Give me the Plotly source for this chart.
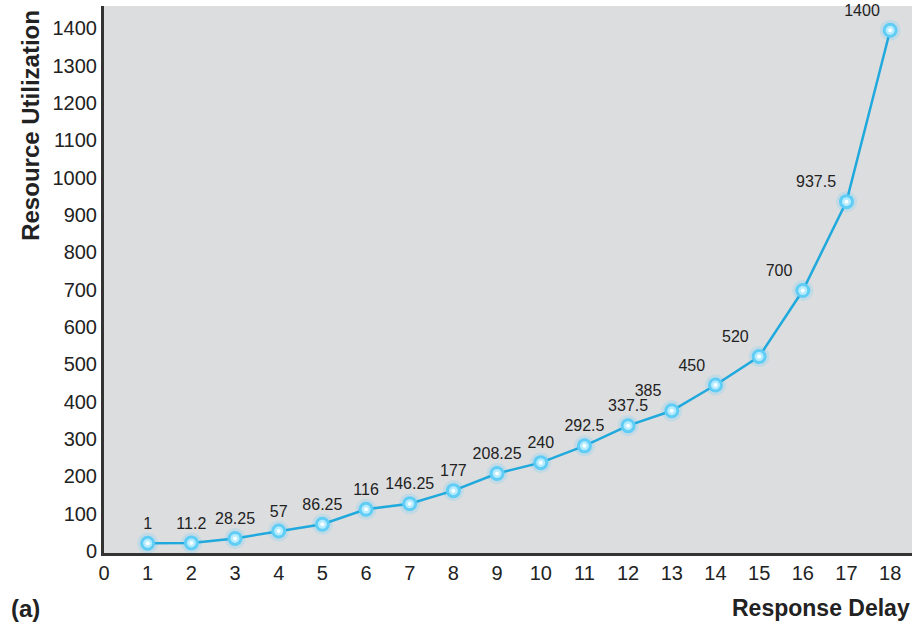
import plotly.graph_objects as go

# Response delay (x) values
response_delay = list(range(1, 19))
# Plotted marker heights
utilization = [21, 22, 34, 54, 72, 112, 127, 162, 208, 237, 282, 336, 376, 445, 521, 698, 936, 1395]
# Data labels printed next to each point
point_labels = ["1", "11.2", "28.25", "57", "86.25", "116", "146.25", "177", "208.25",
                "240", "292.5", "337.5", "385", "450", "520", "700", "937.5", "1400"]
label_positions = ["top center"] * 12 + ["top left"] * 6

x_ticks = list(range(0, 19))
y_ticks = list(range(0, 1401, 100))

FONT = "Liberation Sans, Arial, sans-serif"

fig = go.Figure()

# soft glow behind markers
fig.add_trace(go.Scatter(
    x=response_delay, y=utilization, mode="markers",
    marker=dict(size=21, color="rgba(110,210,248,0.25)", line=dict(width=0)),
    hoverinfo="skip", showlegend=False,
))
# main line + markers + labels
fig.add_trace(go.Scatter(
    x=response_delay, y=utilization, mode="lines+markers+text",
    line=dict(color="#1fa9dc", width=2.5),
    marker=dict(size=15, color="#5fcdf5", line=dict(width=0)),
    text=point_labels, textposition=label_positions,
    textfont=dict(family=FONT, size=16, color="#222222"),
    cliponaxis=False,
    showlegend=False,
))
# bright highlight centers
fig.add_trace(go.Scatter(
    x=response_delay, y=utilization, mode="markers",
    marker=dict(size=9, color="rgba(190,238,255,0.9)", line=dict(width=0)),
    hoverinfo="skip", showlegend=False,
))
fig.add_trace(go.Scatter(
    x=response_delay, y=utilization, mode="markers",
    marker=dict(size=4, color="rgba(250,255,255,1)", line=dict(width=0)),
    hoverinfo="skip", showlegend=False,
))

fig.update_layout(
    width=922, height=624,
    margin=dict(l=104, r=10, t=6, b=71, autoexpand=False),
    paper_bgcolor="white",
    plot_bgcolor="#dcdddf",
    font=dict(family=FONT, color="#222222"),
    showlegend=False,
    xaxis=dict(
        range=[0, 18.5], tickmode="array", tickvals=x_ticks,
        ticktext=[str(v) for v in x_ticks],
        tickfont=dict(size=20, color="#222222"),
        showgrid=False, zeroline=False, automargin=False,
        showline=True, linecolor="#333333", linewidth=3,
        ticks="", ticklen=0,
    ),
    yaxis=dict(
        range=[-5, 1460], tickmode="array", tickvals=y_ticks,
        ticktext=[str(v) for v in y_ticks],
        tickfont=dict(size=20, color="#222222"),
        showgrid=False, zeroline=False, automargin=False,
        showline=True, linecolor="#333333", linewidth=3,
        ticks="", ticklen=0,
    ),
    annotations=[
        dict(text="<b>Resource Utilization</b>", xref="paper", yref="paper",
             x=-0.092, y=0.997, xanchor="center", yanchor="top", textangle=-90,
             showarrow=False, font=dict(size=24, color="#222222")),
        dict(text="<b>Response Delay</b>", xref="paper", yref="paper",
             x=1.0, y=0, xanchor="right", yanchor="top", yshift=-40,
             showarrow=False, font=dict(size=23, color="#222222")),
        dict(text="<b>(a)</b>", xref="paper", yref="paper",
             x=-0.118, y=0, xanchor="left", yanchor="top", yshift=-40,
             showarrow=False, font=dict(size=24, color="#222222")),
    ],
)

fig.write_html("out.html", config={"displayModeBar": False},
               post_script="document.body.style.margin='0';document.body.style.padding='0';")
